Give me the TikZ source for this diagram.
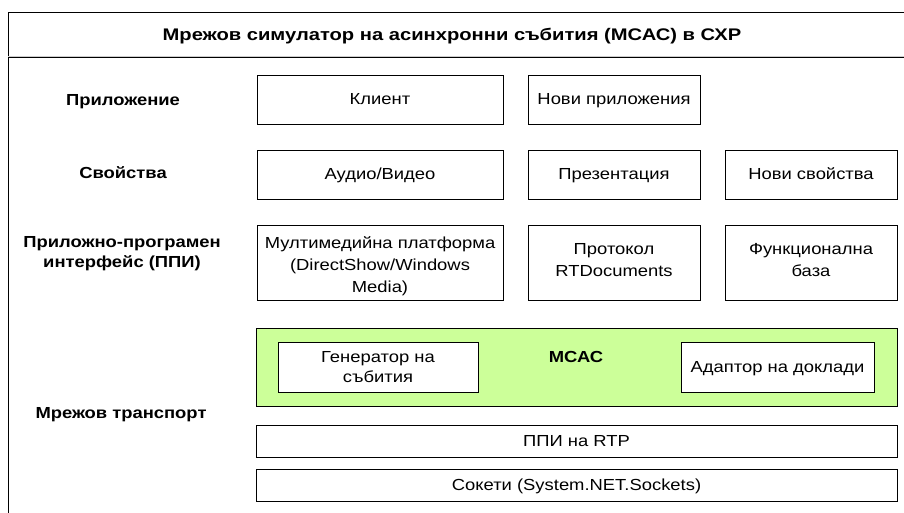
\documentclass[tikz,border=0pt]{standalone}
\usepackage{fontspec}
\setmainfont{Liberation Sans}[FakeStretch=1.15]
\newfontfamily\titlefont{Liberation Sans}[FakeStretch=1.2]
\definecolor{mcasgreen}{RGB}{204,255,153}

\tikzset{
  box/.style={draw=black,line width=0.9pt,fill=white,inner sep=2pt,align=center,
    font=\fontsize{16}{22}\selectfont},
  lbl/.style={align=center,font=\fontsize{16}{20}\selectfont\bfseries},
  % baseline of the last line sits at (h-d)/2 below the centre
  lines/.style={text height=#1,text depth=1pt},
  lines/.default=11pt
}

\begin{document}
\begin{tikzpicture}[x=1pt,y=-1pt]
   \useasboundingbox (0,0) rectangle (904,512);
   \clip (0,0) rectangle (904,512);
   % outer frame and title bar
   \draw[line width=1pt] (8,12) rectangle (930,540);
   \node[text height=12pt,text depth=0pt] (title) at (452,34) {\titlefont\fontsize{16.8}{20}\selectfont\bfseries Мрежов симулатор на асинхронни събития (МСАС) в СХР};
   \draw[gray!40,line width=1pt] (8,56) -- (904,56);
   \draw[line width=1pt] (8,57.5) -- (904,57.5);
   % layer names
   \begin{scope}[every node/.style={lbl}]
    \node[lines] (app) at (123,100) {Приложение};
    \node[lines] (prop) at (123,173) {Свойства};
    \node[lines=31pt] (api) at (122,252) {Приложно-програмен\\интерфейс (ППИ)};
    \node[lines] (net) at (121,413) {Мрежов транспорт};
   \end{scope}
   \begin{scope}[every node/.style={box,lines,minimum height=49pt}]
    \node[minimum width=246pt] (client) at (380,99.5) {Клиент};
    \node[minimum width=172pt] (newapp) at (614,99.5) {Нови приложения};
    \node[minimum width=246pt] (av) at (380,174.5) {Аудио/Видео};
    \node[minimum width=172pt] (pres) at (614,174.5) {Презентация};
    \node[minimum width=172pt] (newprop) at (811,174.5) {Нови свойства};
   \end{scope}
   \begin{scope}[every node/.style={box,minimum height=75pt}]
    \node[lines=60pt,minimum width=246pt] (mm) at (380,262.5) {Мултимедийна платформа\\(DirectShow/Windows\\Media)};
    \node[lines=29pt,minimum width=172pt] (rtd) at (614,262.5) {Протокол\\RTDocuments};
    \node[lines=29pt,minimum width=172pt] (base) at (811,262.5) {Функционална\\база};
   \end{scope}
   % MCAC block
   \node[box,fill=mcasgreen,minimum width=641pt,minimum height=78pt] (mcas) at (576.5,367) {};
   \node[lbl,lines] (mcaslbl) at (576,357) {МСАС};
   \node[box,lines=31pt,font=\fontsize{16}{20}\selectfont,minimum width=200pt,minimum height=50pt] (gen) at (378,367) {Генератор на\\събития};
   \node[box,lines,minimum width=193pt,minimum height=50pt] (adapt) at (777.5,367) {Адаптор на доклади};
   % transport layers
   \node[box,lines,minimum width=641pt,minimum height=32pt] (rtp) at (576.5,441) {ППИ на RTP};
   \node[box,lines,minimum width=641pt,minimum height=32pt] (sock) at (576.5,485) {Сокети (System.NET.Sockets)};
\end{tikzpicture}
\end{document}
